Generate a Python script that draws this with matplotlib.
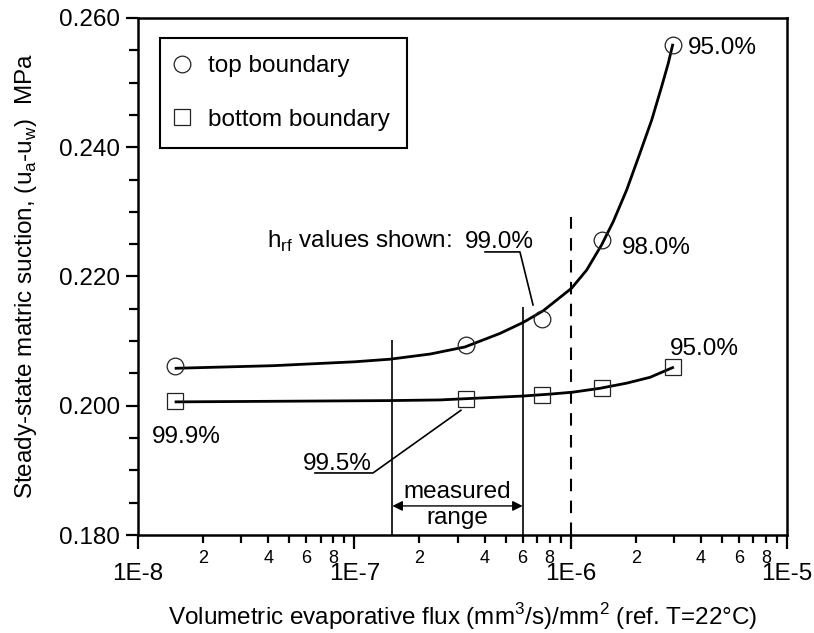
import numpy as np
import matplotlib.pyplot as plt
from matplotlib.lines import Line2D
from matplotlib.ticker import FixedLocator, FixedFormatter, MultipleLocator, FormatStrFormatter

plt.rcParams['font.family'] = ['Liberation Sans', 'DejaVu Sans']

# measured points (flux in (mm3/s)/mm2, suction in MPa)
top_x = [1.49e-8, 3.27e-7, 7.35e-7, 1.39e-6, 2.96e-6]
top_y = [0.2061, 0.2094, 0.2135, 0.2256, 0.2558]
bot_x = [1.49e-8, 3.27e-7, 7.35e-7, 1.39e-6, 2.96e-6]
bot_y = [0.2007, 0.2010, 0.2016, 0.2028, 0.2060]

# fitted curves
top_fit_x = [1.50e-8, 4.21e-8, 1.0e-7, 1.46e-7, 2.24e-7, 3.25e-7, 4.72e-7, 6.04e-7,
             7.47e-7, 1.011e-6, 1.186e-6, 1.391e-6, 1.574e-6, 1.816e-6, 2.092e-6,
             2.369e-6, 2.635e-6, 2.827e-6, 2.96e-6]
top_fit_y = [0.2058, 0.2062, 0.2068, 0.2072, 0.2080, 0.2091, 0.2112, 0.2129,
             0.2147, 0.2182, 0.2210, 0.2249, 0.2285, 0.2334, 0.2391,
             0.2442, 0.2494, 0.2530, 0.2558]
bot_fit_x = [1.50e-8, 1.46e-7, 2.49e-7, 3.31e-7, 6.00e-7, 8.03e-7, 1.022e-6,
             1.367e-6, 1.816e-6, 2.328e-6, 2.96e-6]
bot_fit_y = [0.2006, 0.2008, 0.2009, 0.2011, 0.2015, 0.2018, 0.2021,
             0.2027, 0.2035, 0.2044, 0.2059]

# measured range and reference line
range_lo, range_hi = 1.5e-7, 6.0e-7
range_lo_top, range_hi_top = 0.2102, 0.2153
ref_x, ref_top = 1.0e-6, 0.2292

x_major = [1e-8, 1e-7, 1e-6, 1e-5]
x_major_lbl = ['1E-8', '1E-7', '1E-6', '1E-5']
x_minor = [m * d for d in [1e-8, 1e-7, 1e-6] for m in range(2, 10)]
x_minor_lbl = [str(m) if m in (2, 4, 6, 8) else '' for d in range(3) for m in range(2, 10)]

fs = 17.5

fig = plt.figure(figsize=(8.14, 6.33), dpi=100)
ax = fig.add_axes([0.1695, 0.1548, 0.7973, 0.8168])

ax.plot(top_fit_x, top_fit_y, color='black', lw=2.0, zorder=3, solid_joinstyle='round')
ax.plot(bot_fit_x, bot_fit_y, color='black', lw=2.0, zorder=3, solid_joinstyle='round')
ax.plot(top_x, top_y, 'o', ms=12, mfc='none', mec='#222222', mew=0.9, zorder=4)
ax.plot(bot_x, bot_y, 's', ms=12, mfc='none', mec='#222222', mew=0.9, zorder=4)

ax.vlines([range_lo, range_hi], 0.180, [range_lo_top, range_hi_top], color='black', lw=1.2)
ax.vlines(ref_x, 0.180, ref_top, color='black', lw=1.5, linestyles=(0, (6, 4.5)))

ax.annotate('', xy=(range_lo, 0.1845), xytext=(range_hi, 0.1845),
            arrowprops=dict(arrowstyle='<|-|>', color='black', lw=1.0,
                            mutation_scale=15, shrinkA=0, shrinkB=0))
ax.text(3.0e-7, 0.1867, 'measured', ha='center', va='center', fontsize=fs)
ax.text(3.0e-7, 0.1826, 'range', ha='center', va='center', fontsize=fs)

# h_rf labels
ax.text(3.95e-8, 0.2244, r'h$_{\mathregular{rf}}$ values shown:', fontsize=fs, va='baseline')
ax.text(3.25e-7, 0.2244, '99.0%', fontsize=fs, va='baseline')
ax.plot([4.02e-7, 5.83e-7, 6.70e-7], [0.2238, 0.2238, 0.2156], color='black', lw=1.2)
ax.text(1.73e-6, 0.2235, '98.0%', fontsize=fs, va='baseline')
ax.text(3.49e-6, 0.2545, '95.0%', fontsize=fs, va='baseline')
ax.text(2.88e-6, 0.2078, '95.0%', fontsize=fs, va='baseline')
ax.text(1.16e-8, 0.1943, '99.9%', fontsize=fs, va='baseline')
ax.text(5.79e-8, 0.1901, '99.5%', fontsize=fs, va='baseline')
ax.plot([6.58e-8, 1.22e-7, 3.11e-7], [0.1896, 0.1896, 0.1993], color='black', lw=1.2)

ax.set_xscale('log')
ax.set_xlim(1e-8, 1e-5)
ax.set_ylim(0.180, 0.260)

ax.xaxis.set_major_locator(FixedLocator(x_major))
ax.xaxis.set_major_formatter(FixedFormatter(x_major_lbl))
ax.xaxis.set_minor_locator(FixedLocator(x_minor))
ax.xaxis.set_minor_formatter(FixedFormatter(x_minor_lbl))
ax.yaxis.set_major_locator(MultipleLocator(0.02))
ax.yaxis.set_major_formatter(FormatStrFormatter('%.3f'))
ax.yaxis.set_minor_locator(MultipleLocator(0.005))

ax.tick_params(axis='x', which='major', direction='out', length=10, width=1.6, labelsize=fs, pad=10)
ax.tick_params(axis='x', which='minor', direction='out', length=5.5, width=1.6, labelsize=13, pad=5)
ax.tick_params(axis='y', which='major', direction='out', length=9, width=1.6, labelsize=fs, pad=4)
ax.tick_params(axis='y', which='minor', direction='out', length=6.5, width=1.6)
ax.tick_params(top=False, right=False, which='both')
for s in ax.spines.values():
    s.set_linewidth(1.8)

ax.set_xlabel(r'Volumetric evaporative flux (mm$^{\mathregular{3}}$/s)/mm$^{\mathregular{2}}$ (ref. T=22°C)',
              fontsize=fs, labelpad=12)
ax.set_ylabel(r'Steady-state matric suction, (u$_{\mathregular{a}}$-u$_{\mathregular{w}}$)  MPa',
              fontsize=fs, labelpad=14)

handles = [Line2D([], [], marker='o', ls='none', ms=12, mfc='none', mec='#222222', mew=0.9),
           Line2D([], [], marker='s', ls='none', ms=12, mfc='none', mec='#222222', mew=0.9)]
leg = ax.legend(handles, ['top boundary', 'bottom boundary'], loc='upper left',
                bbox_to_anchor=(0.034, 0.961), borderaxespad=0, fontsize=fs,
                fancybox=False, edgecolor='black', framealpha=1,
                labelspacing=1.3, handlelength=0.4, handletextpad=0.86, borderpad=0.7)
leg.get_frame().set_linewidth(1.5)

fig.savefig('out.png', dpi=100)
